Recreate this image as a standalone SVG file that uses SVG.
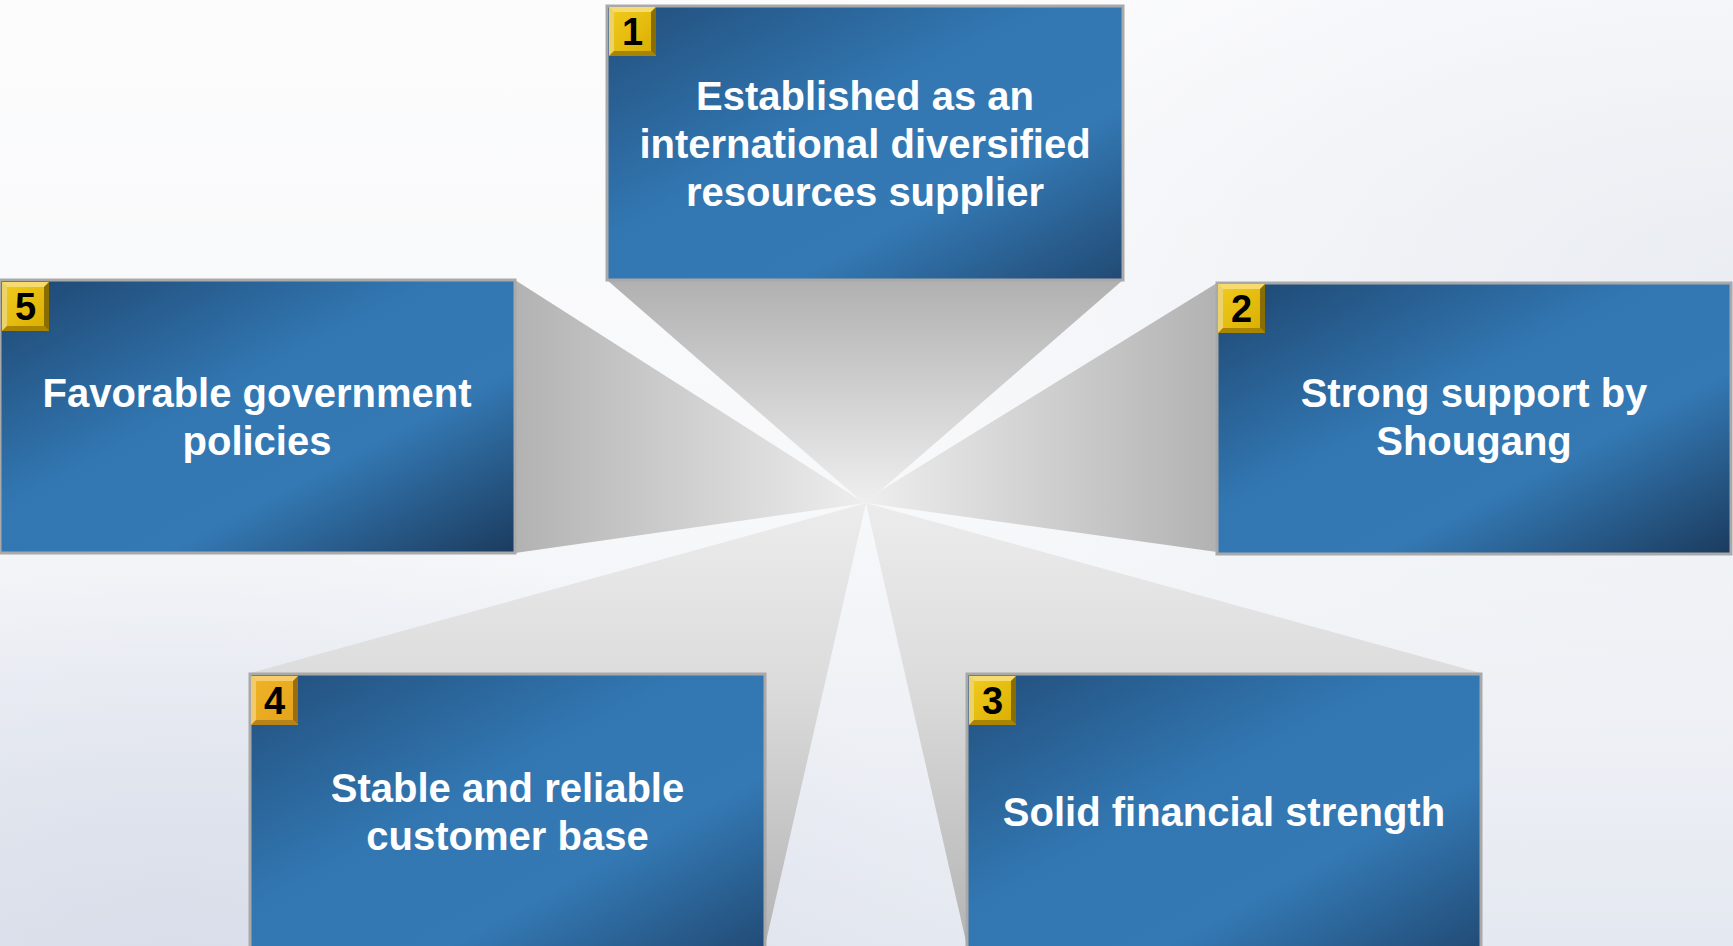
<svg xmlns="http://www.w3.org/2000/svg" width="1733" height="946" viewBox="0 0 1733 946">
  <defs>
    <linearGradient id="bg" x1="0" y1="0" x2="0" y2="1">
      <stop offset="0" stop-color="#fcfcfd"/>
      <stop offset="0.55" stop-color="#f7f8fa"/>
      <stop offset="1" stop-color="#e4e8f0"/>
    </linearGradient>
    <radialGradient id="bgTR" cx="1" cy="0.3" r="0.5">
      <stop offset="0" stop-color="#e8ebf1" stop-opacity="0.9"/>
      <stop offset="1" stop-color="#e8ebf1" stop-opacity="0"/>
    </radialGradient>
    <radialGradient id="bgBL" cx="0.1" cy="1" r="0.45">
      <stop offset="0" stop-color="#d6dbe8" stop-opacity="0.8"/>
      <stop offset="1" stop-color="#d6dbe8" stop-opacity="0"/>
    </radialGradient>
    <linearGradient id="boxFill" x1="0" y1="0" x2="1" y2="1">
      <stop offset="0" stop-color="#224f7c"/>
      <stop offset="0.42" stop-color="#3277b2"/>
      <stop offset="0.68" stop-color="#3479b4"/>
      <stop offset="1" stop-color="#214a74"/>
    </linearGradient>
    <linearGradient id="boxFillDark" x1="0" y1="0" x2="1" y2="1">
      <stop offset="0" stop-color="#1e4670"/>
      <stop offset="0.42" stop-color="#3277b2"/>
      <stop offset="0.66" stop-color="#3479b4"/>
      <stop offset="1" stop-color="#1b3b5e"/>
    </linearGradient>
    <linearGradient id="faceTop" gradientUnits="userSpaceOnUse" x1="0" y1="280" x2="0" y2="500">
      <stop offset="0" stop-color="#b0b0b0"/>
      <stop offset="1" stop-color="#eeeeee"/>
    </linearGradient>
    <linearGradient id="faceLeft" gradientUnits="userSpaceOnUse" x1="515" y1="0" x2="866" y2="0">
      <stop offset="0" stop-color="#b2b2b2"/>
      <stop offset="1" stop-color="#eeeeee"/>
    </linearGradient>
    <linearGradient id="faceRight" gradientUnits="userSpaceOnUse" x1="1217" y1="0" x2="866" y2="0">
      <stop offset="0" stop-color="#b2b2b2"/>
      <stop offset="1" stop-color="#eeeeee"/>
    </linearGradient>
    <linearGradient id="faceBottom" gradientUnits="userSpaceOnUse" x1="0" y1="503" x2="0" y2="946">
      <stop offset="0" stop-color="#ececec"/>
      <stop offset="0.4" stop-color="#dcdcdc"/>
      <stop offset="1" stop-color="#b4b4b4"/>
    </linearGradient>
    <linearGradient id="gold" x1="0" y1="0" x2="1" y2="1">
      <stop offset="0" stop-color="#f2cc20"/>
      <stop offset="1" stop-color="#d9ad00"/>
    </linearGradient>
    <linearGradient id="orange" x1="0" y1="0" x2="1" y2="1">
      <stop offset="0" stop-color="#f0b428"/>
      <stop offset="1" stop-color="#e3a31a"/>
    </linearGradient>
  </defs>
  <style>
    .box { fill: url(#boxFill); stroke: #a9a9a9; stroke-width: 3; }
    .boxd { fill: url(#boxFillDark); stroke: #a9a9a9; stroke-width: 3; }
    .label { font-family: "Liberation Sans", Arial, sans-serif; font-weight: bold; font-size: 40px; fill: #ffffff; text-anchor: middle; }
    .num { font-family: "Liberation Sans", Arial, sans-serif; font-weight: bold; font-size: 38px; fill: #000000; text-anchor: middle; }
    .bvT { fill: #f6dc70; }
    .bvL { fill: #ecd26a; }
    .bvR { fill: #8a6d00; }
    .bvB { fill: #a88400; }
  </style>

  <!-- background -->
  <rect x="0" y="0" width="1733" height="946" fill="url(#bg)"/>
  <rect x="0" y="0" width="1733" height="946" fill="url(#bgTR)"/>
  <rect x="0" y="0" width="1733" height="946" fill="url(#bgBL)"/>

  <!-- connectors: perspective faces converging on the centre -->
  <g id="connectors">
    <polygon points="607,280 1123,280 880,491 866,503 860,500" fill="url(#faceTop)"/>
    <polygon points="515,280 860,500 866,503 515,553" fill="url(#faceLeft)"/>
    <polygon points="1217,283 880,491 866,503 1217,552" fill="url(#faceRight)"/>
    <polygon points="250,673 866,503 765,946" fill="url(#faceBottom)"/>
    <polygon points="1481,673 866,503 967,946" fill="url(#faceBottom)"/>
  </g>

  <g id="node1">
    <rect class="box" x="607" y="6" width="516" height="274"/>
    <g>
      <rect x="609" y="7" width="47" height="49" fill="url(#gold)"/>
      <polygon class="bvT" points="609,7 656,7 651,12 614,12"/>
      <polygon class="bvL" points="609,7 614,12 614,51 609,56"/>
      <polygon class="bvR" points="656,7 656,56 651,51 651,12"/>
      <polygon class="bvB" points="609,56 656,56 651,51 614,51"/>
      <text class="num" x="632.5" y="45">1</text>
    </g>
    <text class="label" x="865" y="110">Established as an</text>
    <text class="label" x="865" y="158">international diversified</text>
    <text class="label" x="865" y="206">resources supplier</text>
  </g>

  <g id="node2">
    <rect class="boxd" x="1217" y="283" width="514" height="271"/>
    <g>
      <rect x="1218" y="284" width="47" height="49" fill="url(#gold)"/>
      <polygon class="bvT" points="1218,284 1265,284 1260,289 1223,289"/>
      <polygon class="bvL" points="1218,284 1223,289 1223,328 1218,333"/>
      <polygon class="bvR" points="1265,284 1265,333 1260,328 1260,289"/>
      <polygon class="bvB" points="1218,333 1265,333 1260,328 1223,328"/>
      <text class="num" x="1241.5" y="322">2</text>
    </g>
    <text class="label" x="1474" y="407">Strong support by</text>
    <text class="label" x="1474" y="455">Shougang</text>
  </g>

  <g id="node3">
    <rect class="box" x="967" y="674" width="514" height="280"/>
    <g>
      <rect x="969" y="676" width="47" height="49" fill="url(#gold)"/>
      <polygon class="bvT" points="969,676 1016,676 1011,681 974,681"/>
      <polygon class="bvL" points="969,676 974,681 974,720 969,725"/>
      <polygon class="bvR" points="1016,676 1016,725 1011,720 1011,681"/>
      <polygon class="bvB" points="969,725 1016,725 1011,720 974,720"/>
      <text class="num" x="992.5" y="714">3</text>
    </g>
    <text class="label" x="1224" y="826">Solid financial strength</text>
  </g>

  <g id="node4">
    <rect class="box" x="250" y="674" width="515" height="280"/>
    <g>
      <rect x="251" y="676" width="47" height="49" fill="url(#orange)"/>
      <polygon points="251,676 298,676 293,681 256,681" fill="#f5cd6a"/>
      <polygon points="251,676 256,681 256,720 251,725" fill="#f3ca6c"/>
      <polygon points="298,676 298,725 293,720 293,681" fill="#9a6e10"/>
      <polygon points="251,725 298,725 293,720 256,720" fill="#b8841a"/>
      <text class="num" x="274.5" y="714">4</text>
    </g>
    <text class="label" x="507.5" y="802">Stable and reliable</text>
    <text class="label" x="507.5" y="850">customer base</text>
  </g>

  <g id="node5">
    <rect class="boxd" x="0" y="280" width="515" height="273"/>
    <g>
      <rect x="2" y="282" width="47" height="49" fill="url(#gold)"/>
      <polygon class="bvT" points="2,282 49,282 44,287 7,287"/>
      <polygon class="bvL" points="2,282 7,287 7,326 2,331"/>
      <polygon class="bvR" points="49,282 49,331 44,326 44,287"/>
      <polygon class="bvB" points="2,331 49,331 44,326 7,326"/>
      <text class="num" x="25.5" y="320">5</text>
    </g>
    <text class="label" x="257" y="407">Favorable government</text>
    <text class="label" x="257" y="455">policies</text>
  </g>
</svg>
